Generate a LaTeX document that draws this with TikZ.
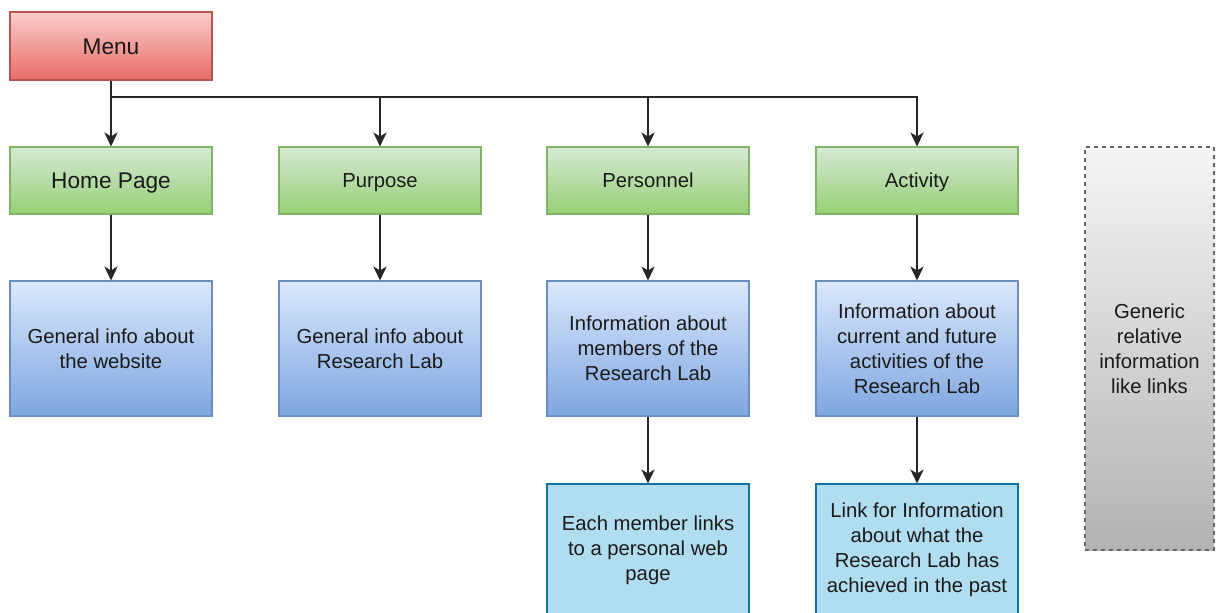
\documentclass[tikz,border=0pt]{standalone}
\usepackage{fontspec}
\setmainfont{Liberation Sans}
\usetikzlibrary{arrows.meta}
\definecolor{redT}{HTML}{F8CECC}\definecolor{redB}{HTML}{EA6B66}\definecolor{redD}{HTML}{B85450}
\definecolor{grnT}{HTML}{D5E8D4}\definecolor{grnB}{HTML}{97D077}\definecolor{grnD}{HTML}{82B366}
\definecolor{bluT}{HTML}{DAE8FC}\definecolor{bluB}{HTML}{7EA6E0}\definecolor{bluD}{HTML}{6C8EBF}
\definecolor{cyaF}{HTML}{B1DDF0}\definecolor{cyaD}{HTML}{10739E}
\definecolor{gryT}{HTML}{F5F5F5}\definecolor{gryB}{HTML}{B3B3B3}\definecolor{gryD}{HTML}{666666}
\definecolor{txt}{HTML}{1A1A1A}
\tikzset{
  base/.style={rectangle, draw, line width=0.8pt, align=center, text=txt, inner sep=0pt,
    font=\fontsize{15.2pt}{18.8pt}\selectfont, minimum width=151.5pt},
  oneline/.style={text height=12pt, text depth=1pt},
  bigline/.style={text height=13.5pt, text depth=1pt, font=\fontsize{17pt}{20pt}\selectfont},
  menubox/.style={base, bigline, top color=redT, bottom color=redB, draw=redD, minimum height=51pt},
  grnbox/.style={base, oneline, top color=grnT, bottom color=grnB, draw=grnD, minimum height=50.25pt},
  blubox/.style={base, top color=bluT, bottom color=bluB, draw=bluD, minimum height=101.25pt},
  cyabox/.style={base, fill=cyaF, draw=cyaD, minimum height=99pt},
  grybox/.style={base, top color=gryT, bottom color=gryB, draw=gryD, dashed, minimum width=96.75pt, minimum height=302.25pt},
  conn/.style={line width=1.1pt, draw=black!85},
  arr/.style={conn, -{Stealth[length=10.5pt,width=10pt,inset=3pt]}},
}
\begin{document}
\begin{tikzpicture}[x=0.75pt,y=-0.75pt]
\useasboundingbox (0,0) rectangle (1216,613);
\node[menubox] (menu) at (111,46) {Menu};
\node[grnbox, bigline] (home) at (111,180.5) {Home Page};
\node[grnbox] (purpose) at (380,180.5) {Purpose};
\node[grnbox] (personnel) at (648,180.5) {Personnel};
\node[grnbox] (activity) at (917,180.5) {Activity};
\node[blubox] (homeinfo) at (111,348.5) {General info about\\the website};
\node[blubox] (purpinfo) at (380,348.5) {General info about\\Research Lab};
\node[blubox] (persinfo) at (648,348.5) {Information about\\members of the\\Research Lab};
\node[blubox] (actinfo) at (917,348.5) {Information about\\current and future\\activities of the\\Research Lab};
\node[cyabox] (member) at (648,550) {Each member links\\to a personal web\\page};
\node[cyabox] (past) at (917,550) {Link for Information\\about what the\\Research Lab has\\achieved in the past};
\node[grybox] (generic) at (1149.5,348.5) {Generic\\relative\\information\\like links};
\coordinate (bus) at (111,97);
\draw[conn] (menu.south) -- (bus);
\draw[arr] (bus) -- (home.north);
\draw[arr] (bus) -| (purpose.north);
\draw[arr] (bus) -| (personnel.north);
\draw[arr] (bus) -| (activity.north);
\draw[arr] (home) -- (homeinfo);
\draw[arr] (purpose) -- (purpinfo);
\draw[arr] (personnel) -- (persinfo);
\draw[arr] (activity) -- (actinfo);
\draw[arr] (persinfo) -- (member);
\draw[arr] (actinfo) -- (past);
\end{tikzpicture}
\end{document}
